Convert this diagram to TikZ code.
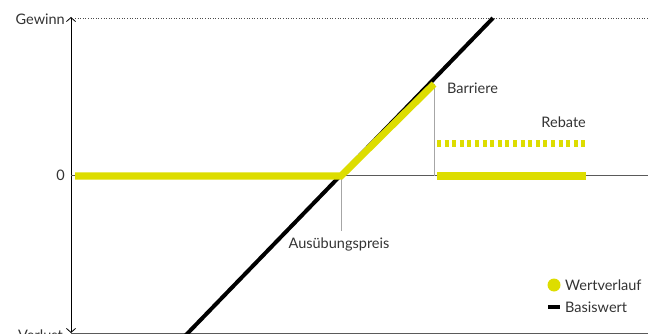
\documentclass[tikz,border=0pt]{standalone}
\usepackage{fontspec}
\setmainfont{Lato}
\usepackage{xcolor}
\usetikzlibrary{arrows.meta}
\definecolor{wert}{RGB}{221,221,0}
\definecolor{achse}{RGB}{90,90,90}
\tikzset{
  wertlinie/.style = {line width=7pt, wert},
  basislinie/.style = {line width=4pt, black},
  hilfslinie/.style = {line width=0.8pt, gray!70},
  achsenlinie/.style = {line width=0.9pt, achse},
  beschriftung/.style = {font=\fontsize{14.5}{16}\selectfont, text=black!80, inner sep=1pt}
}

\begin{document}
\begin{tikzpicture}[x=1pt, y=-1pt]
\useasboundingbox (0,0) rectangle (648,334);
% Achsen
\coordinate (oben) at (71,17);
\coordinate (unten) at (71,333);
\coordinate (null) at (71,175);
\draw[line width=0.8pt, black, {Straight Barb[length=4pt,width=9pt]}-{Straight Barb[length=4pt,width=9pt]}] (oben) -- (unten);
\draw[dotted, line width=0.6pt, black!70] (75,18) -- (648,18);
\draw[achsenlinie] (null) -- (648,175);
\draw[achsenlinie] (unten) -- (648,333);
\node[beschriftung, anchor=east] (gewinn) at (66,19) {Gewinn};
\node[beschriftung, anchor=east] (nulltext) at (66,175) {0};
\node[beschriftung, anchor=east] (verlust) at (64,335) {Verlust};
% Basiswert
\coordinate (b1) at (185,336);
\coordinate (b2) at (493,18);
\draw[basislinie] (b1) -- (b2);
% Hilfslinien
\coordinate (strike) at (341,176);
\coordinate (barriere) at (434,84);
\draw[hilfslinie] (strike) -- (341,231);
\draw[hilfslinie] (barriere) -- (434,176);
% Wertverlauf
\draw[wertlinie] (75,176) -- (strike) -- (barriere);
\draw[wertlinie] (437,176) -- (586,176);
\draw[wertlinie, dash pattern=on 4pt off 3.6pt] (437,144) -- (587,144);
% Beschriftungen
\node[beschriftung, anchor=north] (ausuebung) at (339,237) {Ausübungspreis};
\node[beschriftung, anchor=west] (barrieretext) at (446,88) {Barriere};
\node[beschriftung, anchor=east] (rebate) at (587,122) {Rebate};
% Legende
\fill[wert] (554,285) circle (6.5);
\fill[black] (548,304.5) rectangle (560,309);
\node[beschriftung, anchor=west] (leg1) at (564,285) {Wertverlauf};
\node[beschriftung, anchor=west] (leg2) at (564,307) {Basiswert};
\end{tikzpicture}
\end{document}
